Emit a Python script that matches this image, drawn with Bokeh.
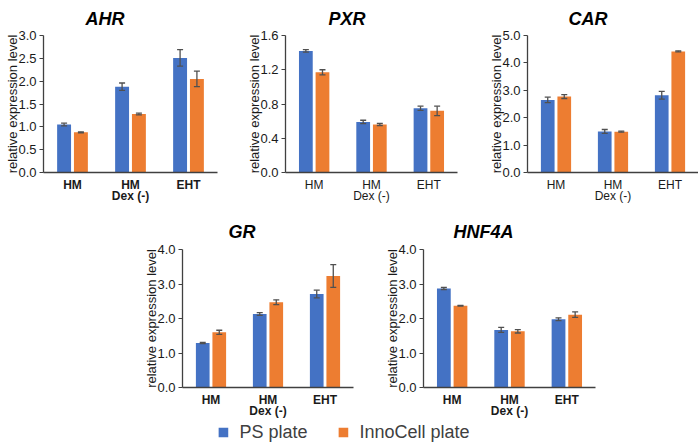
from bokeh.plotting import figure
from bokeh.models import (ColumnDataSource, Range1d, FixedTicker, NumeralTickFormatter,
                          Whisker, TeeHead, Title, Legend, LegendItem, Spacer, LinearAxis)
from bokeh.layouts import column, row
from bokeh.embed import file_html
from bokeh.resources import INLINE

# ---------------- data ----------------
groups = ["HM", "HM", "EHT"]
sub_labels = ["", "Dex (-)", ""]
series_names = ["PS plate", "InnoCell plate"]

ahr_ps = [1.05, 1.88, 2.51]
ahr_ps_err = [0.03, 0.08, 0.18]
ahr_inno = [0.88, 1.28, 2.05]
ahr_inno_err = [0.01, 0.02, 0.17]
ahr_ticks = [0.0, 0.5, 1.0, 1.5, 2.0, 2.5, 3.0]

pxr_ps = [1.42, 0.59, 0.75]
pxr_ps_err = [0.015, 0.02, 0.025]
pxr_inno = [1.17, 0.56, 0.72]
pxr_inno_err = [0.03, 0.012, 0.055]
pxr_ticks = [0.0, 0.4, 0.8, 1.2, 1.6]

car_ps = [2.65, 1.50, 2.82]
car_ps_err = [0.10, 0.07, 0.14]
car_inno = [2.77, 1.49, 4.42]
car_inno_err = [0.07, 0.02, 0.02]
car_ticks = [0.0, 1.0, 2.0, 3.0, 4.0, 5.0]

gr_ps = [1.29, 2.13, 2.71]
gr_ps_err = [0.02, 0.04, 0.11]
gr_inno = [1.60, 2.47, 3.23]
gr_inno_err = [0.06, 0.07, 0.33]
gr_ticks = [0.0, 1.0, 2.0, 3.0, 4.0]

hnf_ps = [2.87, 1.67, 1.98]
hnf_ps_err = [0.03, 0.07, 0.04]
hnf_inno = [2.37, 1.63, 2.11]
hnf_inno_err = [0.01, 0.05, 0.08]
hnf_ticks = [0.0, 1.0, 2.0, 3.0, 4.0]

BLUE = "#4472C4"
ORANGE = "#ED7D31"
FONT = "Liberation Sans"
TXT = "#1a1a1a"


def make_panel(gene, ps, ps_err, inno, inno_err, ticks, width, height,
               b_left, b_top, b_right, b_bottom, title_off, title_standoff, bold_x=True):
    p = figure(width=width, height=height, toolbar_location=None, output_backend="svg",
               x_range=Range1d(-0.5, 2.5), y_range=Range1d(ticks[0], ticks[-1]),
               min_border_left=b_left, min_border_top=b_top, min_border_right=b_right,
               min_border_bottom=b_bottom)
    p.title = Title(text=gene, align="left", offset=title_off, text_font=FONT,
                    text_font_size="18px", text_font_style="bold italic",
                    text_color="#000000", standoff=title_standoff)
    idx = list(range(len(groups)))
    off = 0.145
    bw = 0.24
    for vals, errs, col, sign in ((ps, ps_err, BLUE, -1), (inno, inno_err, ORANGE, 1)):
        xs = [i + sign * off for i in idx]
        src = ColumnDataSource(dict(x=xs, top=vals,
                                    upper=[v + e for v, e in zip(vals, errs)],
                                    lower=[v - e for v, e in zip(vals, errs)]))
        p.vbar(x="x", top="top", width=bw, source=src, fill_color=col, line_color=None)
        w = Whisker(base="x", upper="upper", lower="lower", source=src, dimension="height",
                    line_color="#505050", line_width=1.3, level="overlay",
                    upper_head=TeeHead(size=6, line_color="#505050", line_width=1.3),
                    lower_head=TeeHead(size=6, line_color="#505050", line_width=1.3))
        p.add_layout(w)

    p.xgrid.visible = False
    p.ygrid.visible = False
    p.outline_line_color = None

    style = "bold" if bold_x else "normal"
    xa = p.xaxis[0]
    xa.ticker = FixedTicker(ticks=idx)
    xa.major_label_overrides = {i: g for i, g in zip(idx, groups)}
    xa.major_tick_line_color = None
    xa.major_tick_out = 0
    xa.major_tick_in = 0
    xa.minor_tick_line_color = None
    xa.axis_line_color = "#404040"
    xa.axis_line_width = 1.3
    xa.major_label_text_font = FONT
    xa.major_label_text_font_size = "12px"
    xa.major_label_text_font_style = style
    xa.major_label_text_color = TXT
    xa.major_label_standoff = 5

    sub_idx = [i for i, s in zip(idx, sub_labels) if s]
    xa2 = LinearAxis(ticker=FixedTicker(ticks=sub_idx),
                     major_label_overrides={i: sub_labels[i] for i in sub_idx},
                     axis_line_color=None, major_tick_line_color=None,
                     minor_tick_line_color=None, major_tick_out=0, major_tick_in=0,
                     major_label_standoff=-6, major_label_text_font=FONT,
                     major_label_text_font_size="12px", major_label_text_font_style=style,
                     major_label_text_color=TXT)
    p.add_layout(xa2, "below")

    ya = p.yaxis[0]
    ya.ticker = FixedTicker(ticks=ticks)
    ya.formatter = NumeralTickFormatter(format="0.0")
    ya.minor_tick_line_color = None
    ya.major_tick_in = 0
    ya.major_tick_out = 4
    ya.major_tick_line_color = "#404040"
    ya.axis_line_color = "#404040"
    ya.axis_line_width = 1.3
    ya.major_label_text_font = FONT
    ya.major_label_text_font_size = "13px"
    ya.major_label_text_color = TXT
    ya.major_label_standoff = 3
    ya.axis_label = "relative expression level"
    ya.axis_label_text_font = FONT
    ya.axis_label_text_font_size = "13px"
    ya.axis_label_text_font_style = "normal"
    ya.axis_label_text_color = TXT
    ya.axis_label_standoff = -5
    return p


TOP_H = 205
BOT_H = 215

p1 = make_panel("AHR", ahr_ps, ahr_ps_err, ahr_inno, ahr_inno_err, ahr_ticks,
                242, TOP_H, 43, 35, 25, 32, 42, 13, bold_x=True)
p2 = make_panel("PXR", pxr_ps, pxr_ps_err, pxr_inno, pxr_inno_err, pxr_ticks,
                242, TOP_H, 43, 35, 27, 32, 43, 13, bold_x=False)
p3 = make_panel("CAR", car_ps, car_ps_err, car_inno, car_inno_err, car_ticks,
                214, TOP_H, 43, 35, 0, 32, 41, 13, bold_x=False)
p4 = make_panel("GR", gr_ps, gr_ps_err, gr_inno, gr_inno_err, gr_ticks,
                241, BOT_H, 43, 44, 27, 32, 46, 16, bold_x=True)
p5 = make_panel("HNF4A", hnf_ps, hnf_ps_err, hnf_inno, hnf_inno_err, hnf_ticks,
                219, BOT_H, 43, 44, 4, 32, 30, 16, bold_x=True)

# legend-only figure (renderers hidden, only their legend glyphs are shown)
pl = figure(width=680, height=24, toolbar_location=None, output_backend="svg",
            x_range=Range1d(0, 1), y_range=Range1d(0, 1),
            min_border=0)
pl.axis.visible = False
pl.xgrid.visible = False
pl.ygrid.visible = False
pl.outline_line_color = None
r_ps = pl.scatter(x=list(range(len(groups))), y=gr_ps, marker="square", size=10,
                  fill_color=BLUE, line_color=None, visible=False)
r_in = pl.scatter(x=list(range(len(groups))), y=gr_inno, marker="square", size=10,
                  fill_color=ORANGE, line_color=None, visible=False)
leg = Legend(items=[LegendItem(label=series_names[0], renderers=[r_ps]),
                    LegendItem(label=series_names[1], renderers=[r_in])],
             orientation="horizontal", location="center",
             label_text_font=FONT, label_text_font_size="18px", label_text_color="#404040",
             glyph_width=25, glyph_height=24, label_height=20, label_standoff=4, spacing=23,
             border_line_color=None, background_fill_alpha=0,
             padding=0, margin=0)
pl.add_layout(leg, "center")

layout = column(row(p1, p2, p3),
                row(Spacer(width=139, height=BOT_H), p4, p5),
                pl)

open("out.html", "w").write(file_html(layout, INLINE))
